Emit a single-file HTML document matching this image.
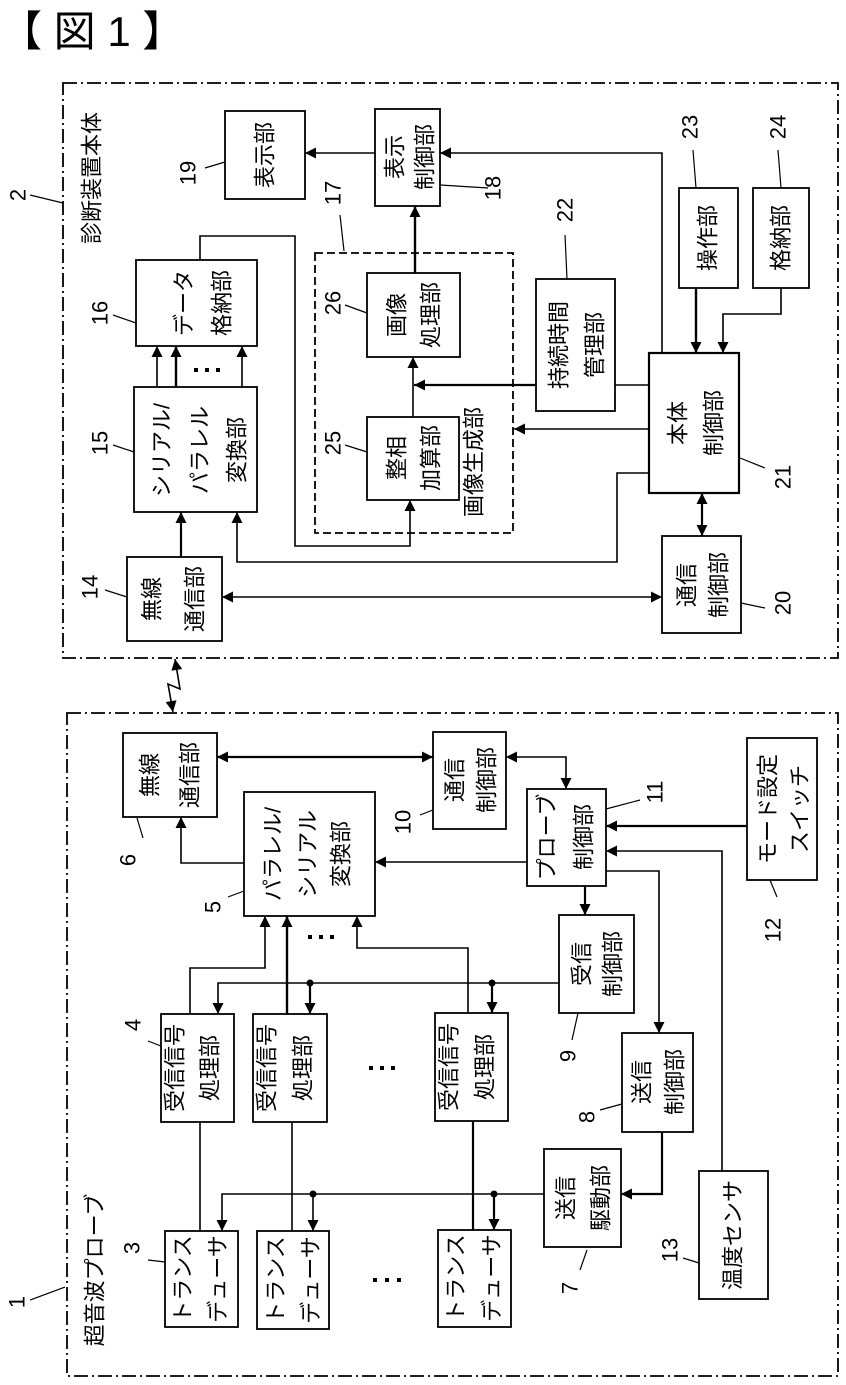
<!DOCTYPE html>
<html><head><meta charset="utf-8"><style>
html,body{margin:0;padding:0;background:#fff;}
svg{display:block;}
text{font-family:"Liberation Sans","Noto Sans CJK JP",sans-serif;fill:#000;}
</style></head><body>
<svg width="846" height="1385" viewBox="0 0 846 1385" xmlns="http://www.w3.org/2000/svg">
<defs>
<marker id="a" viewBox="0 0 10 10" refX="10" refY="5" markerWidth="13" markerHeight="11" markerUnits="userSpaceOnUse" orient="auto-start-reverse"><path d="M0,0 L10,5 L0,10 z" fill="#000"/></marker>
</defs>
<text x="0" y="46" font-size="42" xml:space="preserve">【 図 1 】</text>

<g fill="none" stroke="#000" stroke-width="1.8">
<rect x="63" y="83" width="775" height="575" stroke-dasharray="14 4 2 4"/>
<rect x="67" y="713" width="771" height="663" stroke-dasharray="14 4 2 4"/>
<rect x="315" y="253" width="198" height="280" stroke-dasharray="8 4"/>
<rect x="225" y="111" width="80" height="88"/>
<rect x="375" y="109" width="65" height="97"/>
<rect x="136" y="260" width="121" height="86"/>
<rect x="367" y="273" width="93" height="84"/>
<rect x="367" y="417" width="92" height="83"/>
<rect x="536" y="279" width="79" height="132"/>
<rect x="679" y="188" width="59" height="100"/>
<rect x="753" y="188" width="56" height="100"/>
<rect x="649" y="353" width="90" height="140" stroke-width="2.2"/>
<rect x="662" y="536" width="79" height="97"/>
<rect x="134" y="387" width="123" height="125"/>
<rect x="127" y="557" width="95" height="84"/>
<rect x="123" y="733" width="94" height="84"/>
<rect x="244" y="792" width="131" height="124"/>
<rect x="433" y="732" width="73" height="97"/>
<rect x="527" y="789" width="79" height="97"/>
<rect x="747" y="738" width="70" height="142"/>
<rect x="559" y="915" width="75" height="98"/>
<rect x="161" y="1014" width="73" height="108"/>
<rect x="253" y="1014" width="74" height="108"/>
<rect x="435" y="1013" width="73" height="108"/>
<rect x="622" y="1033" width="71" height="99"/>
<rect x="544" y="1149" width="77" height="98"/>
<rect x="165" y="1231" width="73" height="96"/>
<rect x="257" y="1231" width="72" height="98"/>
<rect x="438" y="1230" width="73" height="97"/>
<rect x="699" y="1171" width="69" height="128"/>
</g>

<g fill="none" stroke="#000" stroke-width="1.6">
<line x1="375" y1="153" x2="305" y2="153" marker-end="url(#a)"/>
<polyline points="662,353 662,153 440,153" marker-end="url(#a)"/>
<line x1="415" y1="273" x2="415" y2="206" marker-end="url(#a)" stroke-width="2.4"/>
<line x1="413" y1="417" x2="413" y2="357" marker-end="url(#a)"/>
<polyline points="649,385 615,385"/>
<line x1="536" y1="385" x2="414" y2="385" marker-end="url(#a)" stroke-width="2.2"/>
<line x1="649" y1="429" x2="514" y2="429" marker-end="url(#a)"/>
<line x1="696" y1="288" x2="696" y2="353" marker-end="url(#a)" stroke-width="2.4"/>
<polyline points="781,288 781,314 723,314 723,353" marker-end="url(#a)"/>
<line x1="157" y1="387" x2="157" y2="346" marker-end="url(#a)"/>
<line x1="176" y1="387" x2="176" y2="346" marker-end="url(#a)" stroke-width="2.4"/>
<line x1="242" y1="387" x2="242" y2="346" marker-end="url(#a)"/>
<polyline points="200,260 200,236 295,236 295,546 410,546 410,500" marker-end="url(#a)"/>
<polyline points="649,473 617,473 617,562 237,562 237,512" marker-end="url(#a)"/>
<line x1="181" y1="557" x2="181" y2="512" marker-end="url(#a)" stroke-width="2.2"/>
<line x1="222" y1="597" x2="662" y2="597" marker-start="url(#a)" marker-end="url(#a)"/>
<line x1="702" y1="493" x2="702" y2="536" marker-start="url(#a)" marker-end="url(#a)" stroke-width="2.2"/>
<polyline points="175,659 180,689 168,684 173,712" marker-start="url(#a)" marker-end="url(#a)"/>
<polyline points="244,863 181,863 181,817" marker-end="url(#a)"/>
<line x1="217" y1="757" x2="433" y2="757" marker-start="url(#a)" marker-end="url(#a)" stroke-width="2.2"/>
<polyline points="506,757 566,757 566,789" marker-start="url(#a)" marker-end="url(#a)"/>
<line x1="527" y1="862" x2="375" y2="862" marker-end="url(#a)"/>
<line x1="747" y1="826" x2="606" y2="826" marker-end="url(#a)" stroke-width="2.2"/>
<polyline points="722,1171 722,851 606,851" marker-end="url(#a)"/>
<line x1="585" y1="886" x2="585" y2="915" marker-end="url(#a)" stroke-width="2.2"/>
<polyline points="606,871 659,871 659,1033" marker-end="url(#a)"/>
<polyline points="559,983 218,983 218,1014" marker-end="url(#a)"/>
<line x1="310" y1="983" x2="310" y2="1014" marker-end="url(#a)" stroke-width="2.2"/>
<line x1="492" y1="983" x2="492" y2="1013" marker-end="url(#a)" stroke-width="2.2"/>
<polyline points="190,1014 190,968 265,968 265,916" marker-end="url(#a)"/>
<line x1="287" y1="1014" x2="287" y2="916" marker-end="url(#a)" stroke-width="2.4"/>
<polyline points="468,1013 468,948 357,948 357,916" marker-end="url(#a)"/>
<polyline points="662,1132 662,1194 621,1194" marker-end="url(#a)" stroke-width="2.2"/>
<polyline points="544,1194 222,1194 222,1231" marker-end="url(#a)"/>
<line x1="313" y1="1194" x2="313" y2="1231" marker-end="url(#a)"/>
<line x1="494" y1="1194" x2="494" y2="1230" marker-end="url(#a)" stroke-width="2.2"/>
<line x1="200" y1="1122" x2="200" y2="1231"/>
<line x1="292" y1="1122" x2="292" y2="1231"/>
<line x1="473" y1="1121" x2="473" y2="1230" stroke-width="2.2"/>
<path stroke-width="1.2" d="M205,168 L225,162 M488,188 L440,185 M113,315 L136,323 M113,445 L134,452 M345,305 L367,313 M345,445 L367,452 M340,215 L344,251 M565,235 L567,279 M693,150 L696,188 M778,150 L781,188 M740,458 L765,468 M741,603 L765,608 M105,590 L127,597 M30,195 L63,203 M143,838 L137,818 M228,897 L244,891 M420,815 L433,810 M606,809 L640,800 M777,897 L770,880 M148,1041 L161,1046 M578,1013 L572,1040 M600,1110 L622,1104 M587,1250 L580,1270 M683,1258 L699,1263 M148,1260 L165,1262 M30,1300 L65,1287"/>
</g>
<g fill="#000">
<circle cx="310" cy="983" r="3.5"/><circle cx="492" cy="983" r="3.5"/>
<circle cx="313" cy="1194" r="3.5"/><circle cx="494" cy="1194" r="3.5"/>
<rect x="194" y="368" width="4" height="4"/><rect x="205" y="368" width="4" height="4"/><rect x="216" y="368" width="4" height="4"/>
<rect x="308" y="935" width="4" height="4"/><rect x="319" y="935" width="4" height="4"/><rect x="330" y="935" width="4" height="4"/>
<rect x="369" y="1066" width="4" height="4"/><rect x="380" y="1066" width="4" height="4"/><rect x="391" y="1066" width="4" height="4"/>
<rect x="373" y="1278" width="4" height="4"/><rect x="385" y="1278" width="4" height="4"/><rect x="397" y="1278" width="4" height="4"/>
</g>

<g font-size="22" text-anchor="middle" dominant-baseline="central">
<text transform="translate(265,155) rotate(-90)">表示部</text>
<text transform="translate(395,157) rotate(-90)">表示</text>
<text transform="translate(425,157) rotate(-90)">制御部</text>
<text transform="translate(184,303) rotate(-90)">データ</text>
<text transform="translate(222,303) rotate(-90)">格納部</text>
<text transform="translate(397,315) rotate(-90)">画像</text>
<text transform="translate(431,315) rotate(-90)">処理部</text>
<text transform="translate(397,458) rotate(-90)">整相</text>
<text transform="translate(431,458) rotate(-90)">加算部</text>
<text transform="translate(474,462) rotate(-90)">画像生成部</text>
<text transform="translate(559,345) rotate(-90)">持続時間</text>
<text transform="translate(595,345) rotate(-90)">管理部</text>
<text transform="translate(708,238) rotate(-90)">操作部</text>
<text transform="translate(781,238) rotate(-90)">格納部</text>
<text transform="translate(678,423) rotate(-90)">本体</text>
<text transform="translate(714,423) rotate(-90)">制御部</text>
<text transform="translate(687,585) rotate(-90)">通信</text>
<text transform="translate(719,585) rotate(-90)">制御部</text>
<text transform="translate(162,450) rotate(-90)">シリアル/</text>
<text transform="translate(200,450) rotate(-90)">パラレル</text>
<text transform="translate(237,450) rotate(-90)">変換部</text>
<text transform="translate(152,599) rotate(-90)">無線</text>
<text transform="translate(195,599) rotate(-90)">通信部</text>
<text transform="translate(92,178) rotate(-90)">診断装置本体</text>
<text transform="translate(150,775) rotate(-90)">無線</text>
<text transform="translate(190,775) rotate(-90)">通信部</text>
<text transform="translate(273,854) rotate(-90)">パラレル/</text>
<text transform="translate(308,854) rotate(-90)">シリアル</text>
<text transform="translate(341,854) rotate(-90)">変換部</text>
<text transform="translate(455,780) rotate(-90)">通信</text>
<text transform="translate(487,780) rotate(-90)">制御部</text>
<text transform="translate(547,837) rotate(-90)">プローブ</text>
<text transform="translate(584,837) rotate(-90)">制御部</text>
<text transform="translate(768,809) rotate(-90)">モード設定</text>
<text transform="translate(800,809) rotate(-90)">スイッチ</text>
<text transform="translate(582,964) rotate(-90)">受信</text>
<text transform="translate(613,964) rotate(-90)">制御部</text>
<text transform="translate(175,1068) rotate(-90)">受信信号</text>
<text transform="translate(210,1068) rotate(-90)">処理部</text>
<text transform="translate(267,1068) rotate(-90)">受信信号</text>
<text transform="translate(303,1068) rotate(-90)">処理部</text>
<text transform="translate(449,1067) rotate(-90)">受信信号</text>
<text transform="translate(485,1067) rotate(-90)">処理部</text>
<text transform="translate(642,1082) rotate(-90)">送信</text>
<text transform="translate(675,1082) rotate(-90)">制御部</text>
<text transform="translate(566,1198) rotate(-90)">送信</text>
<text transform="translate(601,1198) rotate(-90)">駆動部</text>
<text transform="translate(183,1279) rotate(-90)">トランス</text>
<text transform="translate(218,1279) rotate(-90)">デューサ</text>
<text transform="translate(276,1280) rotate(-90)">トランス</text>
<text transform="translate(311,1280) rotate(-90)">デューサ</text>
<text transform="translate(456,1278) rotate(-90)">トランス</text>
<text transform="translate(492,1278) rotate(-90)">デューサ</text>
<text transform="translate(733,1235) rotate(-90)">温度センサ</text>
<text transform="translate(95,1270) rotate(-90)">超音波プローブ</text>
</g>
<g font-size="22" text-anchor="middle" dominant-baseline="central">
<text transform="translate(18,195) rotate(-90)">2</text>
<text transform="translate(188,173) rotate(-90)">19</text>
<text transform="translate(493,188) rotate(-90)">18</text>
<text transform="translate(333,193) rotate(-90)">17</text>
<text transform="translate(100,313) rotate(-90)">16</text>
<text transform="translate(100,443) rotate(-90)">15</text>
<text transform="translate(333,303) rotate(-90)">26</text>
<text transform="translate(333,443) rotate(-90)">25</text>
<text transform="translate(565,210) rotate(-90)">22</text>
<text transform="translate(690,127) rotate(-90)">23</text>
<text transform="translate(778,127) rotate(-90)">24</text>
<text transform="translate(783,477) rotate(-90)">21</text>
<text transform="translate(783,603) rotate(-90)">20</text>
<text transform="translate(90,587) rotate(-90)">14</text>
<text transform="translate(128,860) rotate(-90)">6</text>
<text transform="translate(213,907) rotate(-90)">5</text>
<text transform="translate(403,822) rotate(-90)">10</text>
<text transform="translate(655,792) rotate(-90)">11</text>
<text transform="translate(773,930) rotate(-90)">12</text>
<text transform="translate(133,1025) rotate(-90)">4</text>
<text transform="translate(568,1056) rotate(-90)">9</text>
<text transform="translate(587,1117) rotate(-90)">8</text>
<text transform="translate(570,1288) rotate(-90)">7</text>
<text transform="translate(670,1250) rotate(-90)">13</text>
<text transform="translate(132,1248) rotate(-90)">3</text>
<text transform="translate(17,1302) rotate(-90)">1</text>
</g>
</svg>
</body></html>
